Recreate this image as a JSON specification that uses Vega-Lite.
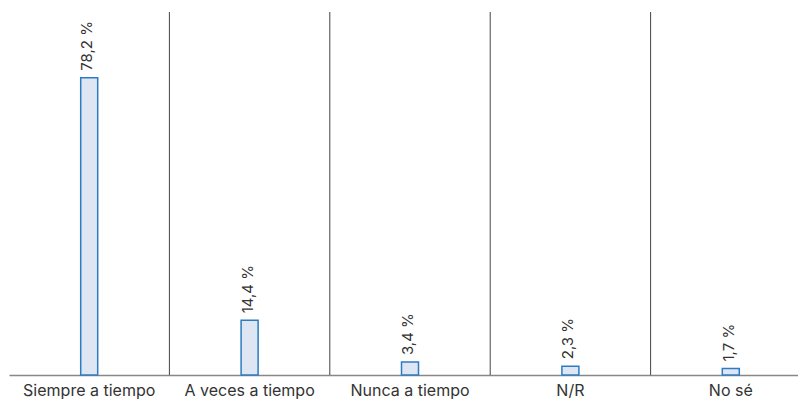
{
  "$schema": "https://vega.github.io/schema/vega-lite/v6.json",
  "autosize": "none",
  "width": 802,
  "height": 363,
  "padding": {"left": 9, "top": 12, "right": 0, "bottom": 26},
  "background": "white",
  "config": {
    "view": {"stroke": null},
    "font": "Inter",
    "text": {"font": "Inter"}
  },
  "datasets": {
    "bars": [
      {"cat": "Siempre a tiempo", "value": 78.2, "label": "78,2 %"},
      {"cat": "A veces a tiempo", "value": 14.4, "label": "14,4 %"},
      {"cat": "Nunca a tiempo", "value": 3.4, "label": "3,4 %"},
      {"cat": "N/R", "value": 2.3, "label": "2,3 %"},
      {"cat": "No sé", "value": 1.7, "label": "1,7 %"}
    ],
    "seps": [
      {"cat": "A veces a tiempo"},
      {"cat": "Nunca a tiempo"},
      {"cat": "N/R"},
      {"cat": "No sé"}
    ]
  },
  "layer": [
    {
      "data": {"name": "seps"},
      "mark": {"type": "rule", "color": "#444444", "strokeWidth": 1},
      "encoding": {
        "x": {"field": "cat", "type": "nominal", "bandPosition": 0, "sort": null,
              "scale": {"domain": ["Siempre a tiempo", "A veces a tiempo", "Nunca a tiempo", "N/R", "No sé"], "paddingInner": 0, "paddingOuter": 0}},
        "y": {"value": 0},
        "y2": {"value": 363}
      }
    },
    {
      "data": {"name": "bars"},
      "mark": {"type": "bar", "width": 17, "fill": "#dfe6f3", "stroke": "#2b7cc4", "strokeWidth": 1.5},
      "encoding": {
        "x": {"field": "cat", "type": "nominal", "sort": null,
              "axis": {"title": null, "labelAngle": 0, "labelAlign": "center", "labelBaseline": "top", "labelFontSize": 16, "labelColor": "#333333", "labelFont": "Inter", "labelPadding": 7, "ticks": false, "domainColor": "#888888", "domainWidth": 1.5}},
        "y": {"field": "value", "type": "quantitative", "scale": {"domain": [0, 95.5], "nice": false}, "axis": null}
      }
    },
    {
      "data": {"name": "bars"},
      "mark": {"type": "text", "angle": -90, "align": "left", "baseline": "middle", "dx": 7, "dy": -2, "fontSize": 15, "color": "#333333"},
      "encoding": {
        "x": {"field": "cat", "type": "nominal", "sort": null},
        "y": {"field": "value", "type": "quantitative"},
        "text": {"field": "label"}
      }
    }
  ]
}
